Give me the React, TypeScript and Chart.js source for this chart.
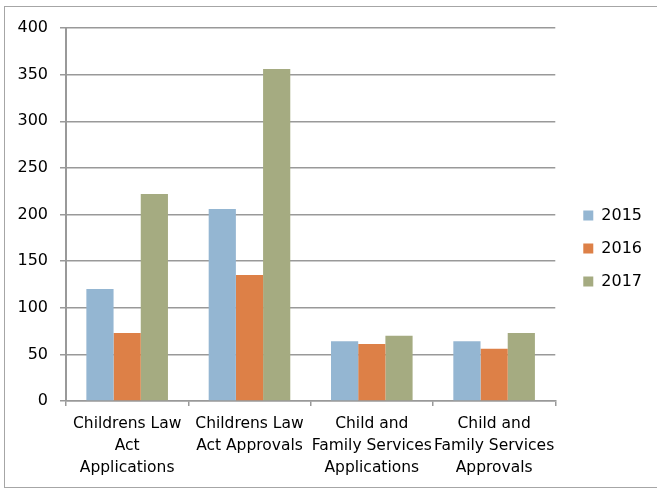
import React, { useEffect, useRef } from "react";
import { Chart, registerables } from "chart.js";

Chart.register(...registerables);

const categories: string[][] = [
  ["Childrens Law", "Act", "Applications"],
  ["Childrens Law", "Act Approvals"],
  ["Child and", "Family Services", "Applications"],
  ["Child and", "Family Services", "Approvals"],
];
const seriesNames = ["2015", "2016", "2017"];
const values2015 = [120, 206, 64, 64];
const values2016 = [73, 135, 61, 56];
const values2017 = [222, 356, 70, 73];
const yTicks = [0, 50, 100, 150, 200, 250, 300, 350, 400];

const colors = ["#94B6D2", "#DD8047", "#A5AB81"];
const FONT = "'DejaVu Sans', sans-serif";

export default function App() {
  const ref = useRef<HTMLCanvasElement | null>(null);

  useEffect(() => {
    if (!ref.current) return;
    const data = [values2015, values2016, values2017];
    const chart = new Chart(ref.current, {
      type: "bar",
      data: {
        labels: categories,
        datasets: seriesNames.map((name, i) => ({
          label: name,
          data: data[i],
          backgroundColor: colors[i],
          borderWidth: 0,
          categoryPercentage: 0.667,
          barPercentage: 1,
        })),
      },
      options: {
        responsive: false,
        animation: false,
        devicePixelRatio: 1,
        layout: { padding: { top: 8, bottom: 0, left: 0, right: 5 } },
        plugins: {
          tooltip: { enabled: false },
          legend: {
            position: "right",
            labels: {
              boxWidth: 10,
              boxHeight: 10,
              padding: 17,
              color: "#000",
              font: { family: FONT, size: 16 },
            },
          },
        },
        scales: {
          x: {
            grid: {
              display: true,
              drawOnChartArea: false,
              drawTicks: true,
              tickLength: 5,
              color: "#999",
              lineWidth: 1.5,
              offset: true,
            },
            border: { display: true, color: "#999", width: 1.5 },
            ticks: {
              color: "#000",
              font: { family: FONT, size: 15.5, lineHeight: 1.42 },
              padding: 7,
              maxRotation: 0,
              minRotation: 0,
              autoSkip: false,
            },
            afterFit: (s: any) => {
              s.height = 88;
              s.paddingLeft = 0;
              s.paddingRight = 0;
            },
          },
          y: {
            min: 0,
            max: 400,
            afterBuildTicks: (s: any) => {
              s.ticks = yTicks.map((v) => ({ value: v }));
            },
            grid: {
              color: "#999",
              lineWidth: 1.5,
              tickLength: 6,
              drawTicks: true,
            },
            border: { display: true, color: "#999", width: 2 },
            ticks: {
              color: "#000",
              font: { family: FONT, size: 16 },
              padding: 12,
            },
            afterFit: (s: any) => {
              s.width = 66;
              s.paddingTop = 28;
              s.paddingBottom = 0;
            },
          },
          y2: {
            position: "right",
            display: true,
            grid: { display: false, drawTicks: false },
            border: { display: false },
            ticks: { display: false },
            afterFit: (s: any) => {
              s.width = 11;
              s.paddingTop = 0;
              s.paddingBottom = 0;
            },
          },
        },
      },
    });
    return () => chart.destroy();
  }, []);

  return (
    <div
      style={{
        position: "absolute",
        left: 0,
        top: 0,
        width: 657,
        height: 489,
        overflow: "hidden",
        background: "#fff",
      }}
    >
      <div
        style={{
          position: "absolute",
          left: 4,
          top: 6,
          width: 653,
          height: 482,
          borderTop: "1px solid #A6A6A6",
          borderLeft: "1px solid #A6A6A6",
          borderBottom: "1px solid #A6A6A6",
          boxSizing: "border-box",
        }}
      />
      <canvas
        ref={ref}
        width={657}
        height={489}
        style={{ position: "absolute", left: 0, top: 0 }}
      />
    </div>
  );
}
